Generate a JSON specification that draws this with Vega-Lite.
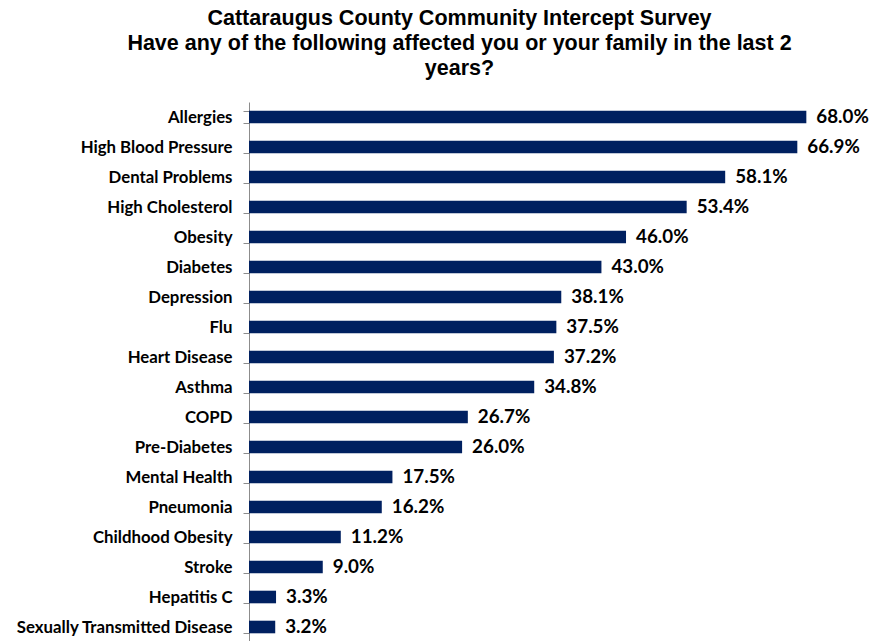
{
  "$schema": "https://vega.github.io/schema/vega-lite/v6.json",
  "width": 876,
  "height": 540,
  "autosize": {"type": "fit-x", "contains": "padding"},
  "padding": {"left": 0, "right": 0, "top": 7, "bottom": 0},
  "background": "white",
  "title": {
    "text": ["Cattaraugus County Community Intercept Survey", "Have any of the following affected you or your family in the last 2", "years?"],
    "font": "Liberation Sans",
    "fontSize": 21.5,
    "fontWeight": "bold",
    "color": "#000000",
    "lineHeight": 25,
    "anchor": "middle",
    "dx": -103,
    "offset": 15
  },
  "data": {
    "values": [
      {"condition": "Allergies", "pct": 0.680},
      {"condition": "High Blood Pressure", "pct": 0.669},
      {"condition": "Dental Problems", "pct": 0.581},
      {"condition": "High Cholesterol", "pct": 0.534},
      {"condition": "Obesity", "pct": 0.460},
      {"condition": "Diabetes", "pct": 0.430},
      {"condition": "Depression", "pct": 0.381},
      {"condition": "Flu", "pct": 0.375},
      {"condition": "Heart Disease", "pct": 0.372},
      {"condition": "Asthma", "pct": 0.348},
      {"condition": "COPD", "pct": 0.267},
      {"condition": "Pre-Diabetes", "pct": 0.260},
      {"condition": "Mental Health", "pct": 0.175},
      {"condition": "Pneumonia", "pct": 0.162},
      {"condition": "Childhood Obesity", "pct": 0.112},
      {"condition": "Stroke", "pct": 0.090},
      {"condition": "Hepatitis C", "pct": 0.033},
      {"condition": "Sexually Transmitted Disease", "pct": 0.032}
    ]
  },
  "encoding": {
    "y": {
      "field": "condition",
      "type": "nominal",
      "sort": null,
      "scale": {"paddingInner": 0.58, "paddingOuter": 0.29},
      "axis": {
        "title": null,
        "domainColor": "#8c8c8c",
        "domainWidth": 1,
        "ticks": true,
        "tickColor": "#8c8c8c",
        "tickWidth": 1,
        "tickSize": 6,
        "tickBand": "extent",
        "labelPadding": 11,
        "labelFont": "Lato",
        "labelFontWeight": "bold",
        "labelFontSize": 16.8,
        "labelColor": "#000000",
        "labelLimit": 300,
        "minExtent": 249,
        "maxExtent": 249
      }
    },
    "x": {
      "field": "pct",
      "type": "quantitative",
      "scale": {"domain": [0, 0.765], "nice": false},
      "axis": null
    }
  },
  "layer": [
    {"mark": {"type": "bar", "color": "#002060"}},
    {
      "mark": {"type": "text", "align": "left", "baseline": "middle", "dx": 10, "font": "Lato", "fontWeight": "bold", "fontSize": 18.8, "color": "#000000"},
      "encoding": {"text": {"field": "pct", "type": "quantitative", "format": ".1%"}}
    }
  ],
  "config": {"view": {"stroke": null}}
}
